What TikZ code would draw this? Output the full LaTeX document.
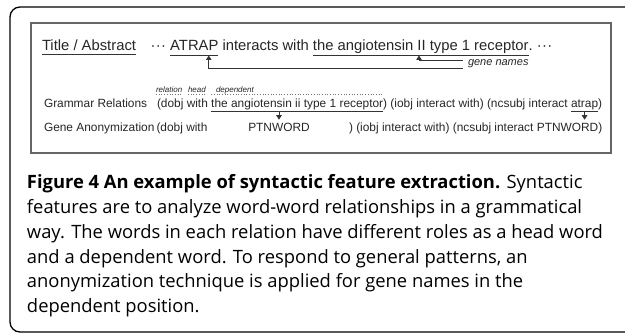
\documentclass[tikz,border=0pt]{standalone}
\usepackage{fontspec}
\setmainfont{Liberation Sans}
\newfontfamily\capfont{Open Sans}
\usetikzlibrary{arrows.meta,calc}
\newlength\capw
\AtBeginDocument{%
  \settowidth{\capw}{\capfont\fontsize{16}{18}\selectfont way. The words in each relation have different roles as a head word}%
  \pgfmathsetmacro\capsize{16*576/\capw}%
  \xdef\capsize{\capsize}}
\begin{document}
\begin{tikzpicture}[x=1pt,y=-1pt,
  txt/.style={inner sep=0pt,outer sep=0pt,anchor=base west,text=black!85},
  big/.style={txt,font=\fontsize{14.8}{16}\selectfont},
  mid/.style={txt,font=\fontsize{11.9}{13}\selectfont},
  lab/.style={txt,font=\fontsize{8}{9}\selectfont\itshape},
  gnstyle/.style={txt,font=\fontsize{11}{12}\selectfont\itshape,anchor=west},
  captxt/.style={inner sep=0pt,outer sep=0pt,anchor=base west,font=\capfont\fontsize{\capsize}{20}\selectfont},
  uline/.style={line width=0.9pt,black!80},
  dline/.style={line width=0.7pt,black!55,dotted},
  arr/.style={line width=0.9pt,black!80,-{Triangle[length=4.5pt,width=5.5pt]}}]
\useasboundingbox (0,0) rectangle (625,334);
% frames
\draw[line width=1.3pt,rounded corners=10pt] (640,7) -- (10,7) -- (10,332) -- (640,332);
\draw[line width=1.4pt,black!60] (31,23) rectangle (611,153);
% line 1
\node[big] (ta) at (42,51) {Title / Abstract};
\node[big] (d1) at (150.5,51) {·\kern0.4pt·\kern0.4pt·};
\node[big] (atrap) at ([xshift=4.1pt]d1.base east) {ATRAP};
\node[big] (iw) at ([xshift=4.1pt]atrap.base east) {interacts with};
\node[big] (rec) at ([xshift=4.1pt]iw.base east) {the angiotensin II type 1 receptor};
\node[big] (d2) at (rec.base east) {.\ ·\kern0.4pt·\kern0.4pt·};
\draw[uline] ([yshift=-3.5pt]ta.base west) -- ([yshift=-3.5pt]ta.base east);
\draw[uline] ([yshift=-4pt]atrap.base west) -- ([yshift=-4pt]atrap.base east);
\draw[uline] ([yshift=-4pt]rec.base west) -- ([yshift=-4pt]rec.base east);
\node[gnstyle] (gn) at (468,64) {gene names};
\coordinate (gnl) at ([xshift=-5pt]gn.west);
\coordinate (a1) at ($([yshift=-4.5pt]atrap.base west)!0.8!([yshift=-4.5pt]atrap.base east)$);
\coordinate (a1b) at (a1 |- 0,68);
\draw[arr] (gnl |- a1b) -- (a1b) -- (a1);
\coordinate (a2) at (419,55.5);
\coordinate (a2b) at (419,60.5);
\draw[arr] (gnl |- a2b) -- (a2b) -- (a2);
% line 2
\node[mid] (gr) at (44,108) {Grammar Relations};
\node[mid] (g1) at (157,108) {(dobj};
\node[mid] (g2) at ([xshift=3.3pt]g1.base east) {with};
\node[mid] (g3) at ([xshift=3.3pt]g2.base east) {the angiotensin ii type 1 receptor};
\node[mid] (g4) at (g3.base east) {) (iobj interact with) (ncsubj interact};
\node[mid] (g5) at ([xshift=3.3pt]g4.base east) {atrap};
\node[mid] (g6) at (g5.base east) {)};
\node[lab] (lr) at (156,92.5) {relation};
\node[lab] (lh) at (188,92.5) {head};
\node[lab] (ld) at (216,92.5) {dependent};
\draw[dline] ([yshift=-2pt]lr.base west) -- ([yshift=-2pt]lr.base east);
\draw[dline] ([yshift=-2pt]lh.base west) -- ([yshift=-2pt]lh.base east);
\draw[dline] ([yshift=13.5pt]g3.base west) -- ([yshift=13.5pt]g4.base west);
\coordinate (g3u) at ([yshift=-3.5pt]g3.base west);
\coordinate (g5u) at ([yshift=-3.5pt]g5.base west);
\draw[uline] (g3u) -- ([yshift=-3.5pt]g3.base east);
\draw[uline] (g5u) -- ([yshift=-3.5pt]g5.base east);
% line 3
\node[mid] (ga) at (44,132) {Gene Anonymization};
\node[mid] (h1) at (156.5,132) {(dobj with};
\node[mid,anchor=base] (h2) at (279,132) {PTNWORD};
\node[mid] (h3) at (349,132) {) (iobj interact with) (ncsubj interact};
\node[mid] (h4) at ([xshift=3.3pt]h3.base east) {PTNWORD};
\node[mid] (h5) at (h4.base east) {)};
\draw[arr] (g3u -| h2) -- ([yshift=4pt]h2.north);
\coordinate (g5c) at ([yshift=-3.5pt]g5.base);
\draw[arr] (g5c) -- ([yshift=4pt]g5c |- h4.north);
% caption
\node[captxt] (c1) at (27,189) {\textbf{Figure 4 An example of syntactic feature extraction.} Syntactic};
\node[captxt] (c2) at (27,213.5) {features are to analyze word-word relationships in a grammatical};
\node[captxt] (c3) at (27,238.5) {way. The words in each relation have different roles as a head word};
\node[captxt] (c4) at (27,263.5) {and a dependent word. To respond to general patterns, an};
\node[captxt] (c5) at (27,287.5) {anonymization technique is applied for gene names in the};
\node[captxt] (c6) at (27,312.5) {dependent position.};
\end{tikzpicture}
\end{document}
